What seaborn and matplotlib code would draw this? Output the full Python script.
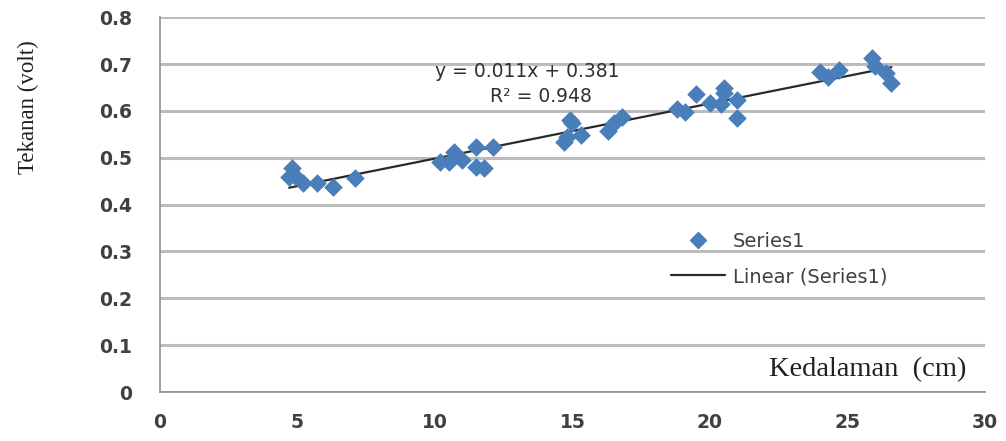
import numpy as np
import pandas as pd
import matplotlib
matplotlib.use("Agg")
import matplotlib.pyplot as plt
import seaborn as sns
from matplotlib.lines import Line2D

# ==========================================
# data
# ==========================================
kedalaman = [4.7, 4.8, 4.9, 5.2, 5.7, 6.3, 7.1,
             10.2, 10.5, 10.7, 11.0, 11.5, 11.5, 11.8, 12.1,
             14.7, 14.8, 14.9, 15.0, 15.3, 16.3, 16.5, 16.8,
             18.8, 19.1, 19.5, 20.0, 20.4, 20.5, 20.5, 21.0, 21.0,
             24.0, 24.3, 24.7, 25.9, 26.0, 26.4, 26.6]
tekanan = [0.458, 0.478, 0.462, 0.446, 0.446, 0.437, 0.456,
           0.490, 0.492, 0.512, 0.495, 0.522, 0.480, 0.478, 0.522,
           0.533, 0.545, 0.580, 0.575, 0.548, 0.558, 0.575, 0.588,
           0.605, 0.598, 0.637, 0.616, 0.615, 0.648, 0.638, 0.624, 0.584,
           0.682, 0.672, 0.688, 0.712, 0.695, 0.680, 0.660]

eq_text = "y = 0.011x + 0.381"
r2_text = "R² = 0.948"

df = pd.DataFrame({"Kedalaman": kedalaman, "Tekanan": tekanan})

# ==========================================
# style
# ==========================================
sns.set_style("white")
plt.rcParams["font.family"] = ["DejaVu Sans"]

BLUE = "#4a7ebb"
GRID = "#bcbcbc"
TXT = "#404040"

fig = plt.figure(figsize=(10.06, 4.41), dpi=100)
ax = fig.add_axes([0.159, 0.111, 0.820, 0.850])

sns.scatterplot(data=df, x="Kedalaman", y="Tekanan", marker="D", s=90,
                color=BLUE, edgecolor=BLUE, linewidth=0, ax=ax, zorder=3)
sns.regplot(data=df, x="Kedalaman", y="Tekanan", scatter=False, ci=None,
            truncate=True, line_kws={"color": "#2a2a2a", "linewidth": 1.6},
            ax=ax)

ax.set_xlim(0, 30)
ax.set_ylim(0, 0.8)
ax.set_xticks(range(0, 31, 5))
ax.set_yticks(np.arange(0, 0.81, 0.1))
ax.set_yticklabels(["0"] + [f"{v:.1f}" for v in np.arange(0.1, 0.81, 0.1)])
ax.grid(True, axis="y", color=GRID, linewidth=2.2)
ax.set_axisbelow(True)
for side in ["top", "right"]:
    ax.spines[side].set_visible(False)
for side in ["left", "bottom"]:
    ax.spines[side].set_color("#909090")
    ax.spines[side].set_linewidth(1.2)
ax.tick_params(axis="both", direction="out", length=5, width=1.2,
               color="#909090", labelsize=13.5, labelcolor=TXT)
ax.tick_params(axis="x", pad=10)
ax.tick_params(axis="y", pad=15)
for lab in ax.get_xticklabels() + ax.get_yticklabels():
    lab.set_fontweight("bold")
ax.set_xlabel("")
ax.set_ylabel("")

# axis titles drawn as text boxes, like the original
fig.text(0.028, 0.757, "Tekanan (volt)", rotation=90, ha="center", va="center",
         fontsize=16.5, family="Liberation Serif", color="#202020")
ax.text(0.858, 0.059, "Kedalaman  (cm)", transform=ax.transAxes,
        ha="center", va="center", fontsize=20.5, family="Liberation Serif",
        color="#202020")

# trendline label
ax.text(0.445, 0.855, eq_text, transform=ax.transAxes, ha="center",
        va="center", fontsize=13.5, color="#303030")
ax.text(0.462, 0.788, r2_text, transform=ax.transAxes, ha="center",
        va="center", fontsize=13.5, color="#303030")

handles = [
    Line2D([], [], marker="D", color=BLUE, linestyle="none", markersize=8),
    Line2D([], [], color="#2a2a2a", linewidth=1.6),
]
ax.legend(handles, ["Series1", "Linear (Series1)"], loc="center left",
          bbox_to_anchor=(0.598, 0.355), frameon=False, fontsize=14,
          labelcolor=TXT, handlelength=2.8, labelspacing=0.85,
          handletextpad=0.4)

fig.savefig("out.png", dpi=100)
